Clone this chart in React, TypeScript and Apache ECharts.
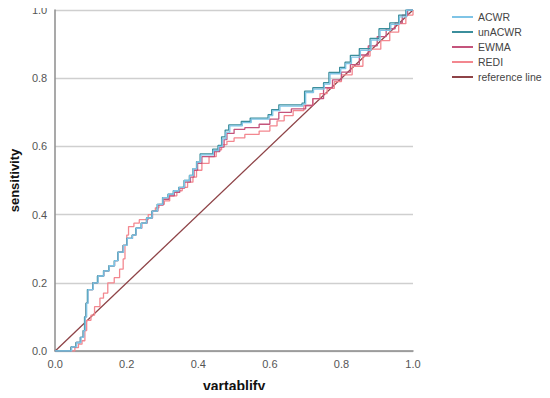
import React, { useEffect, useRef } from "react";
import * as echarts from "echarts";

const seriesNames = ["ACWR", "unACWR", "EWMA", "REDI", "reference line"];
const xTicks = [0, 0.2, 0.4, 0.6, 0.8, 1.0];

const unACWR: number[][] = [
  [0, 0], [0.044, 0.012], [0.058, 0.025], [0.07, 0.04], [0.078, 0.06], [0.082, 0.1], [0.086, 0.14],
  [0.09, 0.18], [0.105, 0.2], [0.118, 0.22], [0.135, 0.235], [0.15, 0.25], [0.165, 0.265], [0.175, 0.29],
  [0.19, 0.31], [0.2, 0.33], [0.215, 0.34], [0.225, 0.36], [0.24, 0.375], [0.255, 0.39], [0.27, 0.41],
  [0.285, 0.43], [0.3, 0.45], [0.315, 0.46], [0.33, 0.47], [0.345, 0.48], [0.36, 0.5], [0.375, 0.515],
  [0.385, 0.535], [0.395, 0.555], [0.405, 0.578], [0.44, 0.592], [0.455, 0.603], [0.465, 0.628],
  [0.475, 0.648], [0.485, 0.663], [0.52, 0.673], [0.545, 0.683], [0.595, 0.693], [0.605, 0.708],
  [0.625, 0.722], [0.69, 0.727], [0.697, 0.762], [0.72, 0.772], [0.75, 0.787], [0.765, 0.817],
  [0.795, 0.832], [0.81, 0.847], [0.825, 0.867], [0.85, 0.887], [0.88, 0.917], [0.905, 0.945],
  [0.935, 0.962], [0.96, 0.985], [0.98, 1], [1, 1],
];

const ACWR: number[][] = [
  [0, 0], [0.046, 0.012], [0.06, 0.025], [0.072, 0.04], [0.08, 0.06], [0.084, 0.1], [0.088, 0.14],
  [0.092, 0.18], [0.106, 0.2], [0.12, 0.22], [0.136, 0.235], [0.151, 0.25], [0.166, 0.265], [0.176, 0.29],
  [0.191, 0.31], [0.201, 0.33], [0.216, 0.34], [0.226, 0.36], [0.241, 0.375], [0.256, 0.39], [0.271, 0.41],
  [0.286, 0.43], [0.301, 0.45], [0.316, 0.46], [0.331, 0.47], [0.346, 0.48], [0.361, 0.5], [0.376, 0.515],
  [0.386, 0.535], [0.396, 0.555], [0.407, 0.575], [0.442, 0.588], [0.457, 0.6], [0.467, 0.622],
  [0.477, 0.642], [0.488, 0.66], [0.523, 0.67], [0.548, 0.68], [0.598, 0.69], [0.608, 0.705],
  [0.628, 0.718], [0.692, 0.724], [0.7, 0.758], [0.722, 0.768], [0.752, 0.783], [0.768, 0.813],
  [0.798, 0.828], [0.812, 0.843], [0.828, 0.862], [0.853, 0.882], [0.883, 0.912], [0.908, 0.94],
  [0.938, 0.958], [0.962, 0.98], [0.982, 1], [1, 1],
];

const EWMA: number[][] = [
  [0, 0], [0.045, 0.012], [0.059, 0.025], [0.071, 0.04], [0.079, 0.06], [0.083, 0.1], [0.087, 0.14],
  [0.091, 0.18], [0.105, 0.2], [0.119, 0.22], [0.136, 0.235], [0.151, 0.25], [0.166, 0.265], [0.176, 0.29],
  [0.19, 0.31], [0.2, 0.33], [0.216, 0.34], [0.226, 0.36], [0.242, 0.375], [0.257, 0.39], [0.272, 0.41],
  [0.287, 0.428], [0.302, 0.445], [0.318, 0.455], [0.333, 0.465], [0.348, 0.478], [0.362, 0.495],
  [0.378, 0.51], [0.388, 0.53], [0.398, 0.55], [0.41, 0.57], [0.445, 0.585], [0.46, 0.598],
  [0.472, 0.62], [0.48, 0.638], [0.5, 0.65], [0.53, 0.655], [0.57, 0.665], [0.6, 0.68], [0.625, 0.7],
  [0.66, 0.71], [0.7, 0.72], [0.72, 0.74], [0.75, 0.772], [0.775, 0.795], [0.8, 0.818], [0.825, 0.84],
  [0.85, 0.868], [0.875, 0.895], [0.9, 0.922], [0.925, 0.945], [0.95, 0.962], [0.97, 0.985],
  [0.985, 1], [1, 1],
];

const REDI: number[][] = [
  [0, 0], [0.04, 0], [0.055, 0.01], [0.065, 0.02], [0.075, 0.03], [0.083, 0.06], [0.088, 0.09],
  [0.1, 0.105], [0.11, 0.13], [0.125, 0.155], [0.135, 0.17], [0.147, 0.2], [0.165, 0.215], [0.18, 0.24],
  [0.19, 0.27], [0.195, 0.31], [0.2, 0.34], [0.205, 0.365], [0.22, 0.375], [0.235, 0.385], [0.26, 0.4],
  [0.27, 0.41], [0.28, 0.42], [0.29, 0.43], [0.305, 0.44], [0.32, 0.455], [0.34, 0.47], [0.355, 0.48],
  [0.37, 0.495], [0.385, 0.51], [0.395, 0.53], [0.41, 0.55], [0.43, 0.57], [0.45, 0.59], [0.465, 0.605],
  [0.48, 0.615], [0.5, 0.625], [0.53, 0.635], [0.57, 0.645], [0.6, 0.66], [0.62, 0.675], [0.64, 0.69],
  [0.665, 0.705], [0.695, 0.72], [0.72, 0.74], [0.74, 0.755], [0.76, 0.77], [0.78, 0.79], [0.8, 0.81],
  [0.83, 0.835], [0.86, 0.865], [0.88, 0.885], [0.91, 0.91], [0.935, 0.935], [0.96, 0.96],
  [0.98, 0.985], [1, 1],
];

const referenceLine: number[][] = [
  [0, 0],
  [1, 1],
];

const colors = ["#7fc4e6", "#3b8e9c", "#c4547c", "#f3878f", "#8e4347"];

export default function App() {
  const ref = useRef<HTMLDivElement>(null);
  useEffect(() => {
    if (!ref.current) return;
    const chart = echarts.init(ref.current, undefined, { renderer: "svg" });
    const datasets = [ACWR, unACWR, EWMA, REDI, referenceLine];
    chart.setOption({
      animation: false,
      color: colors,
      textStyle: { fontFamily: "Liberation Sans, Arial, sans-serif" },
      grid: { left: 52, right: 137, top: 10, bottom: 47 },
      legend: {
        orient: "vertical",
        left: 447,
        top: 6,
        icon: "rect",
        itemWidth: 21,
        itemHeight: 2,
        itemGap: 3,
        textStyle: { fontSize: 10.5, color: "#444", lineHeight: 12 },
        data: seriesNames,
      },
      xAxis: {
        type: "value",
        min: 0,
        max: 1,
        interval: 0.2,
        name: "vartablify",
        nameLocation: "middle",
        nameGap: 28,
        nameTextStyle: { fontSize: 14, fontWeight: "bold", color: "#111" },
        axisLine: { lineStyle: { color: "#8c8c8c", width: 1.5 } },
        axisTick: { show: false },
        splitLine: { show: false },
        axisLabel: {
          fontSize: 11,
          color: "#555",
          margin: 7,
          formatter: (v: number) => v.toFixed(1),
        },
      },
      yAxis: {
        type: "value",
        min: 0,
        max: 1,
        interval: 0.2,
        name: "sensitivity",
        nameLocation: "middle",
        nameGap: 34,
        nameTextStyle: { fontSize: 13, fontWeight: "bold", color: "#111" },
        axisLine: { show: true, lineStyle: { color: "#8c8c8c", width: 1.5 } },
        axisTick: { show: false },
        splitLine: { show: true, lineStyle: { color: "#cfcfcf", width: 1.3 } },
        axisLabel: {
          fontSize: 11,
          color: "#555",
          margin: 8,
          formatter: (v: number) => v.toFixed(1),
        },
      },
      series: seriesNames.map((name, i) => ({
        name,
        type: "line",
        data: datasets[i],
        step: i < 4 ? "end" : undefined,
        showSymbol: false,
        symbol: "none",
        lineStyle: { width: 1.3, color: colors[i] },
        z: i === 4 ? 1 : 5 - i,
      })),
    });
    return () => chart.dispose();
  }, []);
  return <div ref={ref} style={{ width: 550, height: 398, margin: -8 }} />;
}
